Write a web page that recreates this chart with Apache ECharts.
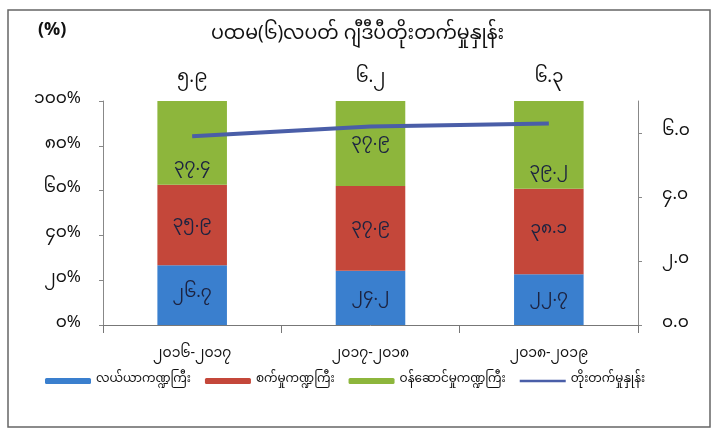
<!DOCTYPE html>
<html>
<head>
<meta charset="utf-8">
<script src="https://cdn.jsdelivr.net/npm/echarts@6/dist/echarts.min.js"></script>
<style>
  html, body { margin: 0; padding: 0; background: #fff; }
  #main { width: 715px; height: 441px; }
</style>
</head>
<body>
<div id="main"></div>
<script>
const categories = ['၂၀၁၆-၂၀၁၇', '၂၀၁၇-၂၀၁၈', '၂၀၁၈-၂၀၁၉'];
const agriculture = [26.7, 24.2, 22.7];
const industry = [35.9, 37.9, 38.1];
const services = [37.4, 37.9, 39.2];
const growth = [5.9, 6.2, 6.3];
const seriesNames = ['လယ်ယာကဏ္ဍကြီး', 'စက်မှုကဏ္ဍကြီး', 'ဝန်ဆောင်မှုကဏ္ဍကြီး', 'တိုးတက်မှုနှုန်း'];

const FONT = '"Noto Sans Myanmar", "Padauk", "Myanmar Text", "Noto Sans", sans-serif';

// western digits -> Myanmar digits
function toMy(n, dec) {
  const s = dec == null ? String(n) : n.toFixed(dec);
  return s.replace(/[0-9]/g, d => String.fromCharCode(0x1040 + Number(d)));
}

const chart = echarts.init(document.getElementById('main'));

const barLabel = {
  show: true,
  position: 'inside',
  color: '#1c2340',
  fontSize: 17,
  fontFamily: FONT,
  formatter: p => toMy(p.value, 1)
};

const option = {
  animation: false,
  textStyle: { fontFamily: FONT },
  graphic: [
    {
      type: 'rect',
      shape: { x: 8, y: 10, width: 702, height: 417 },
      style: { fill: 'none', stroke: '#666', lineWidth: 1.5 }
    },
    {
      type: 'text', left: 38, top: 24,
      style: { text: '(%)', fontSize: 18, fontWeight: 'bold', fill: '#111', fontFamily: FONT }
    }
  ],
  title: {
    text: 'ပထမ(၆)လပတ် ဂျီဒီပီတိုးတက်မှုနှုန်း',
    left: 'center',
    top: 22,
    textStyle: { fontSize: 19, fontWeight: 'normal', color: '#111', fontFamily: FONT }
  },
  legend: {
    data: [
      seriesNames[0],
      seriesNames[1],
      seriesNames[2],
      { name: seriesNames[3], icon: 'path://M0,0 L40,0 L40,2 L0,2 Z' }
    ],
    left: 40,
    top: 370,
    itemWidth: 46,
    itemHeight: 6,
    itemGap: 14,
    textStyle: { fontSize: 12, color: '#111', fontFamily: FONT }
  },
  grid: { left: 103, right: 77, top: 101, bottom: 116 },
  xAxis: {
    type: 'category',
    data: categories,
    axisLine: { lineStyle: { color: '#777' } },
    axisTick: { show: true, length: 8, lineStyle: { color: '#777' } },
    axisLabel: { color: '#111', fontSize: 14, margin: 24, fontFamily: FONT }
  },
  yAxis: [
    {
      type: 'value',
      min: 0,
      max: 100,
      interval: 20,
      splitLine: { show: false },
      axisLine: { show: true, lineStyle: { color: '#888' } },
      axisTick: { show: true, length: 4, lineStyle: { color: '#888' } },
      axisLabel: { color: '#111', fontSize: 17, margin: 22, fontFamily: FONT, formatter: v => toMy(v) + '%' }
    },
    {
      type: 'value',
      min: 0,
      max: 7,
      interval: 2,
      splitLine: { show: false },
      axisLine: { show: true, lineStyle: { color: '#888' } },
      axisTick: { show: true, length: 4, lineStyle: { color: '#888' } },
      axisLabel: { color: '#111', fontSize: 17, margin: 24, showMaxLabel: false, fontFamily: FONT, formatter: v => toMy(v, 1) }
    }
  ],
  series: [
    {
      name: seriesNames[0], type: 'bar', stack: 'share', barWidth: '39%',
      data: agriculture, itemStyle: { color: '#3a7fce' }, label: barLabel
    },
    {
      name: seriesNames[1], type: 'bar', stack: 'share',
      data: industry, itemStyle: { color: '#c4473a' }, label: barLabel
    },
    {
      name: seriesNames[2], type: 'bar', stack: 'share',
      // outer bars keep their label low, clear of the growth line
      data: services.map((v, i) => i === 1 ? v : { value: v, label: { position: 'insideBottom', distance: 8 } }),
      itemStyle: { color: '#8db63c' }, label: barLabel
    },
    {
      // zero-height cap on the stack, carries the growth figures above each bar
      name: 'cap', type: 'bar', stack: 'share',
      data: categories.map(() => 0),
      itemStyle: { color: 'transparent' },
      label: {
        show: true, position: 'top', distance: 12,
        color: '#111', fontSize: 18, fontFamily: FONT,
        formatter: p => toMy(growth[p.dataIndex], 1)
      }
    },
    {
      name: seriesNames[3], type: 'line', yAxisIndex: 1,
      data: growth,
      symbol: 'none',
      lineStyle: { color: '#4a5ea8', width: 4 },
      itemStyle: { color: '#4a5ea8' }
    }
  ]
};

chart.setOption(option);
</script>
</body>
</html>
